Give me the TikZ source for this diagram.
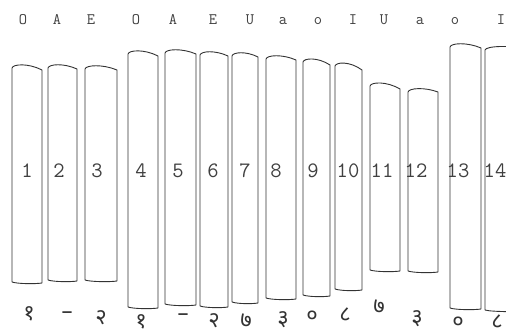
\documentclass[tikz,border=0pt]{standalone}
\usepackage{fontspec}
\newfontfamily\deva[Script=Devanagari]{Noto Sans}
\begin{document}
\begin{tikzpicture}[x=1pt,y=-1pt,
  bar/.style={draw=black!80,line width=0.9pt,line join=round},
  vowel/.style={font=\ttfamily\fontsize{16}{16}\selectfont,text=black!75,anchor=base,inner sep=0pt},
  num/.style={font=\ttfamily\fontsize{22}{22}\selectfont,text=black!75,anchor=base,inner sep=0pt},
  sym/.style={font=\deva\fontsize{22}{22}\selectfont,text=black!80,anchor=base,inner sep=0pt}]
\useasboundingbox (0,0) rectangle (506,334);
\fill[white] (0,0) rectangle (506,334);
% bars: left / right / top-left / top-right / bottom
\foreach \l/\r/\tl/\tr/\b in {
  12/42/64/68/282, 48/77/64/67/280, 85/117/65/68/280,
  128/158/50/54/307, 165/196/49/52/304, 200/228/51/54/306, 232/258/52/55/302,
  266/296/55/58/298, 303/330/58/63/295, 335/362/62/68/289,
  370/400/82/87/270, 408/438/88/90/271,
  450/481/43/46/308, 485/530/46/47/310}
{
  \draw[bar] (\l,\b) -- (\l,\tl+4)
    .. controls (\l+1,\tl) and (\l+0.55*\r-0.55*\l,\tl-1) .. (\r,\tr+2)
    -- (\r,\b+1)
    .. controls (\r-6,\b+2) and (\l+6,\b+2) .. (\l,\b);
}
% vowels on top
\foreach \x/\v [count=\i] in {23/O,57/A,91/E,136/O,173/A,213/E,250/U,283/a,318/o,353/I,384/U,420/a,455/o,501/I}
  \node[vowel] (t\i) at (\x,25) {\v};
% numbers on bars
\foreach \x [count=\i] in {27,59,97,141,178,213,245,276,313,348,382,416,458,495}
  \node[num] (n\i) at (\x,178) {\i};
% handwritten signs below (baselines)
\foreach \x/\y/\s [count=\i] in {29/320/१, 67/318/–, 101/324/२, 141/328/१, 183/320/–, 214/327/२, 246/327/७,
  283/325/३, 312/322/०, 345/321/८, 379/313/७, 417/324/३, 458/328/०, 497/328/८}
  \node[sym] (s\i) at (\x,\y) {\s};
\end{tikzpicture}
\end{document}
